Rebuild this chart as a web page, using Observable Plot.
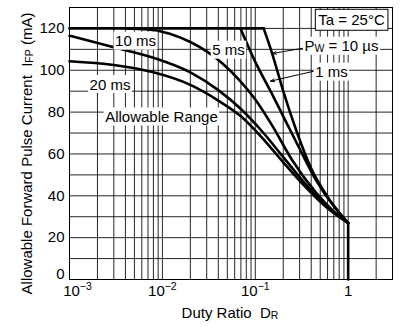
<!DOCTYPE html>
<html><head><meta charset="utf-8">
<script src="https://cdn.jsdelivr.net/npm/d3@7"></script>
<script src="https://cdn.jsdelivr.net/npm/@observablehq/plot@0.6"></script>
<style>
body{margin:0;background:#fff;}
svg{font-family:"Liberation Sans",Arial,sans-serif;}
</style>
</head><body><div id="chart"></div>
<script>
// ---- data (duty ratio D, allowable forward pulse current mA) ----
const flatDuty = [0.001, 0.123];
const flatCurrent = [120, 120];
const duty10us = [0.123, 0.152, 0.2, 0.28, 0.4, 0.6, 1];
const current10us = [120, 108, 90, 70.5, 53, 39.5, 27];
const duty1ms = [0.0693, 0.1, 0.146, 0.2, 0.3, 0.45, 0.7, 1];
const current1ms = [120, 104, 90, 78, 62.5, 47.5, 35, 27];
const duty5ms = [0.004, 0.007, 0.012, 0.02, 0.03, 0.045, 0.065, 0.1, 0.15, 0.25, 0.45, 0.7, 1];
const current5ms = [120, 119.5, 117.5, 113.5, 109, 103, 96, 86, 74, 57, 41.5, 32.5, 27];
const duty10ms = [0.001, 0.003, 0.008, 0.02, 0.04, 0.07, 0.12, 0.2, 0.35, 0.6, 1];
const current10ms = [116.5, 111, 106, 99, 90.5, 81.5, 70.5, 58.5, 45.5, 34.5, 27];
const duty20ms = [0.001, 0.003, 0.008, 0.02, 0.04, 0.07, 0.12, 0.2, 0.35, 0.6, 1];
const current20ms = [104.3, 102.5, 99, 93, 85.5, 78, 67.5, 56, 44, 34, 27];
const dropDuty = [1, 1];
const dropCurrent = [27, 0];

// ---- axes / grid ----
const xTicks = [0.001, 0.01, 0.1, 1];
const xTickLabels = ["10^{−3}", "10^{−2}", "10^{−1}", "1"];
const yTicks = [0, 20, 40, 60, 80, 100, 120];
const xGrid = [0.002,0.003,0.004,0.005,0.006,0.007,0.008,0.009,0.01,
               0.02,0.03,0.04,0.05,0.06,0.07,0.08,0.09,0.1,
               0.2,0.3,0.4,0.5,0.6,0.7,0.8,0.9,1,2];
const yGrid = [10,20,30,40,50,60,70,80,90,100,110,120];

// ---- annotations ----
const labelText = ["10 ms", "20 ms", "5 ms", "Allowable Range", "P_{W} = 10 µs", "1 ms"];
const labelDuty = [0.00513, 0.00273, 0.0515, 0.00977, 0.847, 0.66];
const labelCurrent = [113.8, 93.1, 109.5, 77.6, 111.4, 99];
const tempText = ["Ta = 25°C"];
const tempDuty = [1.087];
const tempCurrent = [123.8];
const leaderFromDuty = [0.322, 0.423];
const leaderFromCurrent = [110.5, 99.5];
const leaderToDuty = [0.153, 0.146];
const leaderToCurrent = [108, 94.8];
const xTitle = "Duty Ratio  D_{R}";
const yTitle = "Allowable Forward Pulse Current  I_{FP} (mA)";

const toRows = (ds, cs, name) => ds.map((d, i) => ({duty: d, current: cs[i], series: name}));
const curves = [
  ...toRows(duty10us, current10us, "10 µs"),
  ...toRows(duty1ms, current1ms, "1 ms"),
  ...toRows(duty5ms, current5ms, "5 ms"),
  ...toRows(duty10ms, current10ms, "10 ms"),
  ...toRows(duty20ms, current20ms, "20 ms")
];
const flat = toRows(flatDuty, flatCurrent, "flat");
const drop = toRows(dropDuty, dropCurrent, "drop");
const labels = labelText.map((t, i) => ({t, d: labelDuty[i], c: labelCurrent[i]}));
const temp = tempText.map((t, i) => ({t, d: tempDuty[i], c: tempCurrent[i]}));
const leaders = leaderFromDuty.map((d, i) => ({x1: d, y1: leaderFromCurrent[i], x2: leaderToDuty[i], y2: leaderToCurrent[i]}));
const xLabelMap = new Map(xTicks.map((t, i) => [t, xTickLabels[i]]));

const plot = Plot.plot({
  width: 416, height: 327,
  marginLeft: 69, marginRight: 24, marginTop: 7, marginBottom: 48,
  style: {fontFamily: "'Liberation Sans', Arial, sans-serif", fontSize: "15px", background: "white", color: "black", overflow: "visible"},
  x: {type: "log", domain: [0.001, 3]},
  y: {domain: [0, 130]},
  marks: [
    Plot.gridX(xGrid, {stroke: "#000", strokeOpacity: 0.85, strokeWidth: 1}),
    Plot.gridY(yGrid, {stroke: "#000", strokeOpacity: 0.85, strokeWidth: 1}),
    Plot.frame({stroke: "#000", strokeWidth: 1}),
    Plot.axisX(xTicks.slice(1), {tickSize: 0, tickPadding: 6, tickFormat: d => xLabelMap.get(d), label: null, fontSize: 15}),
    Plot.axisX(xTicks.slice(0, 1), {tickSize: 0, tickPadding: 6, tickFormat: d => xLabelMap.get(d), label: null, fontSize: 15, dx: 8}),
    Plot.axisY(yTicks.slice(1), {tickSize: 0, tickPadding: 5, label: null, fontSize: 15}),
    Plot.axisY(yTicks.slice(0, 1), {tickSize: 0, tickPadding: 5, label: null, fontSize: 15, dy: -5}),
    Plot.line(flat, {x: "duty", y: "current", stroke: "#000", strokeWidth: 2.6}),
    Plot.line(curves, {x: "duty", y: "current", z: "series", stroke: "#000", strokeWidth: 2.6, curve: "monotone-x"}),
    Plot.line(drop, {x: "duty", y: "current", stroke: "#000", strokeWidth: 2.6}),
    Plot.arrow(leaders, {x1: "x1", y1: "y1", x2: "x2", y2: "y2", stroke: "#000", strokeWidth: 1, headLength: 6, headAngle: 40}),
    Plot.text(labels, {x: "d", y: "c", text: "t", fill: "#000", fontSize: 15}),
    Plot.text(temp, {x: "d", y: "c", text: "t", fill: "#000", fontSize: 15}),
    Plot.text([xTitle], {frameAnchor: "bottom", textAnchor: "middle", dx: -1, dy: 38, fill: "#000", fontSize: 15}),
    Plot.text([yTitle], {frameAnchor: "left", textAnchor: "middle", rotate: -90, dx: -42, dy: 10, fill: "#000", fontSize: 15})
  ]
});
document.getElementById("chart").appendChild(plot);

const NS = "http://www.w3.org/2000/svg";
const allTexts = Array.from(plot.querySelectorAll("text"));
const annotEls = allTexts.filter(el => labelText.includes(el.textContent));
const tempEls = allTexts.filter(el => tempText.includes(el.textContent));

// rich text: subscripts / superscripts
function richify(el) {
  const s = el.textContent;
  if (!/[_^]\{/.test(s)) return;
  while (el.firstChild) el.removeChild(el.firstChild);
  let offset = 0;
  const parts = s.split(/([_^]\{[^}]*\})/).filter(p => p.length);
  for (const p of parts) {
    const t = document.createElementNS(NS, "tspan");
    let target = 0, txt = p, size = null;
    if (p.startsWith("_{")) { target = 1; txt = p.slice(2, -1); size = 10.5; }
    else if (p.startsWith("^{")) { target = -6; txt = p.slice(2, -1); size = 10.5; }
    t.textContent = txt;
    if (size) t.setAttribute("font-size", size);
    if (target !== offset) { t.setAttribute("dy", target - offset); offset = target; }
    el.appendChild(t);
  }
}
allTexts.forEach(richify);

// white boxes behind annotation labels
function boxes(els, stroke) {
  els.forEach(el => {
    const b = el.getBBox();
    const r = document.createElementNS(NS, "rect");
    const px = stroke ? 3 : 1.5;
    r.setAttribute("x", b.x - px);
    r.setAttribute("y", b.y - (stroke ? 2 : 0.5));
    r.setAttribute("width", b.width + 2 * px);
    r.setAttribute("height", b.height + (stroke ? 4 : 1));
    r.setAttribute("fill", "white");
    if (stroke) { r.setAttribute("stroke", "#000"); r.setAttribute("stroke-width", 1); }
    const tf = el.getAttribute("transform");
    if (tf) r.setAttribute("transform", tf);
    el.parentNode.insertBefore(r, el);
  });
}
boxes(annotEls, false);
boxes(tempEls, true);
</script>
</body></html>
